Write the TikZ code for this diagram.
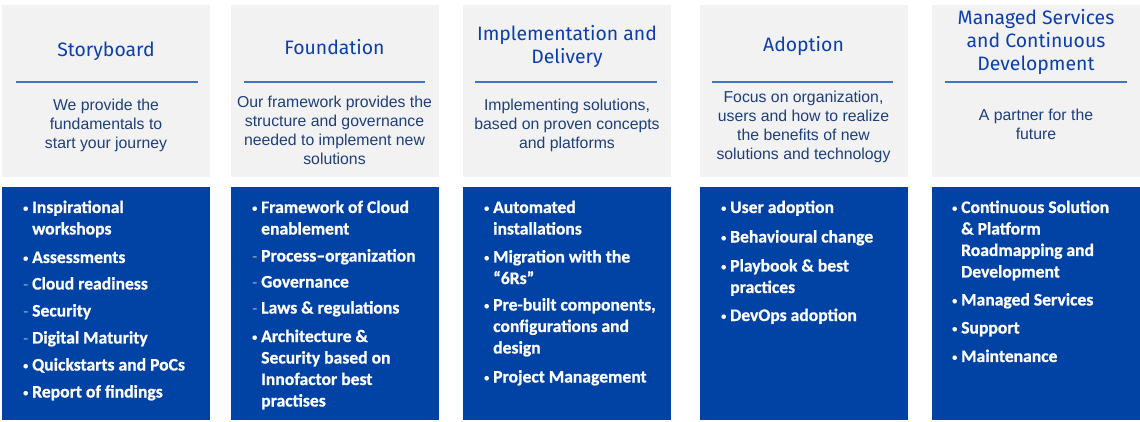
\documentclass[tikz,border=0pt]{standalone}
\usepackage{fontspec}
\setmainfont{Liberation Sans}
\newfontfamily\titlefont{Fira Sans}
\newfontfamily\itemfont[Ligatures=TeX,BoldFeatures={FakeBold=0.8}]{Carlito}
\definecolor{greyc}{HTML}{F2F2F2}
\definecolor{bluec}{HTML}{0043A5}
\definecolor{titlec}{HTML}{0B3FAE}
\definecolor{descc}{HTML}{1E3F7C}
\definecolor{sepc}{HTML}{4472C4}
\newcommand{\bul}{\makebox[9pt][l]{\raisebox{1.5pt}{\fontsize{10}{10}\selectfont\textbullet}}}
\newcommand{\dsh}{\makebox[9pt][l]{\raisebox{1pt}{\fontsize{11}{11}\selectfont\normalfont\itemfont –}}}
\newcommand{\ind}{\hspace*{9pt}}
\begin{document}
\begin{tikzpicture}[x=1pt,y=-1pt,
  greybox/.style={fill=greyc, draw=none, inner sep=0pt, anchor=north west, minimum width=208pt, minimum height=172pt},
  bluebox/.style={fill=bluec, draw=none, inner sep=0pt, anchor=north west, minimum width=208pt, minimum height=233pt},
  ttl/.style={font=\titlefont\fontsize{19.4}{23}\selectfont, text=titlec, align=center, inner sep=0pt},
  desc/.style={font=\fontsize{15.8}{19}\selectfont, text=descc, align=center, inner sep=0pt},
  items/.style={font=\itemfont\bfseries\fontsize{17.6}{21.5}\selectfont, text=white, anchor=base west, inner sep=0pt},
  sepline/.style={draw=sepc, line width=1.1pt}]
\useasboundingbox (0,0) rectangle (1140,422);
% boxes
\node[greybox] (g1) at (2,5) {};
\node[greybox] (g2) at (231,5) {};
\node[greybox] (g3) at (463,5) {};
\node[greybox] (g4) at (700,5) {};
\node[greybox] (g5) at (932,5) {};
\node[bluebox] (b1) at (2,187) {};
\node[bluebox] (b2) at (231,187) {};
\node[bluebox] (b3) at (463,187) {};
\node[bluebox] (b4) at (700,187) {};
\node[bluebox] (b5) at (932,187) {};
% separators
\coordinate (s1a) at (16,82); \coordinate (s1b) at (198,82);
\coordinate (s2a) at (244,82); \coordinate (s2b) at (425,82);
\coordinate (s3a) at (475,82); \coordinate (s3b) at (657,82);
\coordinate (s4a) at (712,82); \coordinate (s4b) at (893,82);
\coordinate (s5a) at (945,82); \coordinate (s5b) at (1127,82);
\draw[sepline] (s1a) -- (s1b);
\draw[sepline] (s2a) -- (s2b);
\draw[sepline] (s3a) -- (s3b);
\draw[sepline] (s4a) -- (s4b);
\draw[sepline] (s5a) -- (s5b);
% titles
\node[ttl] (t1) at (106,51) {Storyboard};
\node[ttl] (t2) at (334.5,47) {Foundation};
\node[ttl] (t3) at (567,46.5) {Implementation and\\Delivery};
\node[ttl] (t4) at (803.5,46) {Adoption};
\node[ttl] (t5) at (1036,42) {Managed Services\\and Continuous\\Development};
% descriptions
\node[desc] (d1) at (106,125) {We provide the\\fundamentals to\\start your journey};
\node[desc] (d2) at (334.5,130.5) {Our framework provides the\\structure and governance\\needed to implement new\\solutions};
\node[desc] (d3) at (567,125) {Implementing solutions,\\based on proven concepts\\and platforms};
\node[desc] (d4) at (803.5,126.5) {Focus on organization,\\users and how to realize\\the benefits of new\\solutions and technology};
\node[desc] (d5) at (1036,124.5) {A partner for the\\future};
% items
\node[items] (i1) at (23,213) {\parbox[t]{185pt}{\raggedright
\bul Inspirational\\ \ind workshops\\[7pt]
\bul Assessments\\[5pt]
\dsh Cloud readiness\\[5.5pt]
\dsh Security\\[5.5pt]
\dsh Digital Maturity\\[5.5pt]
\bul Quickstarts and PoCs\\[5.5pt]
\bul Report of findings}};
\node[items] (i2) at (252,213) {\parbox[t]{185pt}{\raggedright
\bul Framework of Cloud\\ \ind enablement\\[5.5pt]
\dsh Process–organization\\[4.5pt]
\dsh Governance\\[4.5pt]
\dsh Laws \& regulations\\[7pt]
\bul Architecture \&\\ \ind Security based on\\ \ind Innofactor best\\ \ind practises}};
\node[items] (i3) at (484,213) {\parbox[t]{185pt}{\raggedright
\bul Automated\\ \ind installations\\[6.5pt]
\bul Migration with the\\ \ind “6Rs”\\[5pt]
\bul Pre-built components,\\ \ind configurations and\\ \ind design\\[7.5pt]
\bul Project Management}};
\node[items] (i4) at (721,213) {\parbox[t]{185pt}{\raggedright
\bul User adoption\\[8pt]
\bul Behavioural change\\[7.5pt]
\bul Playbook \& best\\ \ind practices\\[6.5pt]
\bul DevOps adoption}};
\node[items] (i5) at (952,213) {\parbox[t]{185pt}{\raggedright
\bul Continuous Solution\\ \ind \& Platform\\ \ind Roadmapping and\\ \ind Development\\[6.5pt]
\bul Managed Services\\[6.5pt]
\bul Support\\[7pt]
\bul Maintenance}};
\end{tikzpicture}
\end{document}
